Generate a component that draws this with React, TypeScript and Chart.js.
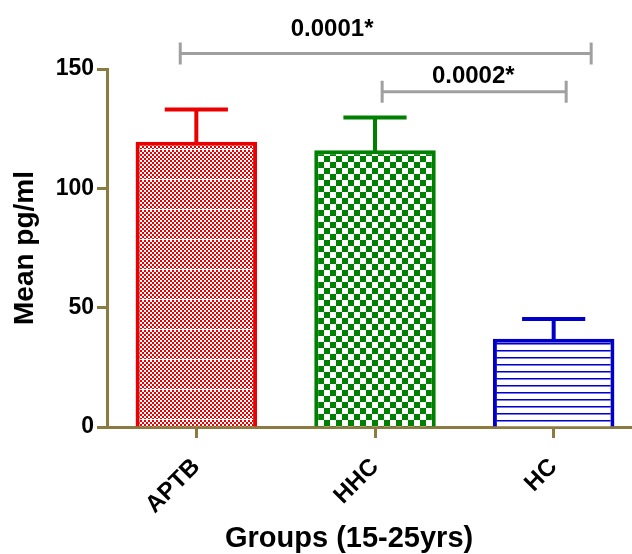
import React, { useEffect, useRef } from 'react';
import { Chart, registerables } from 'chart.js';

Chart.register(...registerables);

// ---- data ----
const categories = ['APTB', 'HHC', 'HC'];
const means = [119.5, 116, 37];
const sem = [13.5, 13.7, 8.3];
const yTicks = [0, 50, 100, 150];
const comparisons = [
  { from: 0, to: 2, level: 156.5, label: '0.0001*' },
  { from: 1, to: 2, level: 140.5, label: '0.0002*' },
];
const xTitle = 'Groups (15-25yrs)';
const yTitle = 'Mean pg/ml';

// ---- styling / layout (not data) ----
const barColors = ['#ea0000', '#008000', '#0000c8'];
const axisColor = '#8c7b41';
const bracketColor = '#a0a0a0';
const FONT = "'Liberation Sans', Arial, sans-serif";
// bracket extents & label anchors (category-index units / value units)
const bracketLayout = [
  { start: -0.09, end: 2.21, textX: 0.76, textY: 163.8 },
  { start: 1.04, end: 2.07, textX: 1.55, textY: 144.3 },
];
const xTitleAnchor = 0.855;

function makePattern(w: number, h: number, draw: (g: CanvasRenderingContext2D) => void) {
  const c = document.createElement('canvas');
  c.width = w;
  c.height = h;
  const g = c.getContext('2d') as CanvasRenderingContext2D;
  draw(g);
  return g.createPattern(c, 'repeat') as CanvasPattern;
}

const annotate = {
  id: 'annotate',
  afterDatasetsDraw(chart: any) {
    const { ctx, scales } = chart;
    const y = scales.y;
    const meta = chart.getDatasetMeta(0);
    ctx.save();
    meta.data.forEach((bar: any, i: number) => {
      const top = y.getPixelForValue(means[i]);
      const errTop = y.getPixelForValue(means[i] + sem[i]);
      const half = bar.width * 0.26;
      ctx.strokeStyle = barColors[i];
      ctx.lineWidth = 4;
      ctx.lineCap = 'butt';
      ctx.beginPath();
      ctx.moveTo(bar.x, top + 2);
      ctx.lineTo(bar.x, errTop);
      ctx.stroke();
      ctx.beginPath();
      ctx.moveTo(bar.x - half, errTop);
      ctx.lineTo(bar.x + half, errTop);
      ctx.stroke();
    });
    ctx.restore();
  },
  afterDraw(chart: any) {
    const { ctx, scales } = chart;
    const x = scales.x;
    const y = scales.y;
    ctx.save();
    comparisons.forEach((c, i) => {
      const L = bracketLayout[i];
      const xs = x.getPixelForValue(c.from + (L.start - c.from));
      const xe = x.getPixelForValue(c.to + (L.end - c.to));
      const yy = y.getPixelForValue(c.level);
      ctx.strokeStyle = bracketColor;
      ctx.lineWidth = 3;
      ctx.beginPath();
      ctx.moveTo(xs, yy);
      ctx.lineTo(xe, yy);
      ctx.moveTo(xs, yy - 11);
      ctx.lineTo(xs, yy + 11);
      ctx.moveTo(xe, yy - 11);
      ctx.lineTo(xe, yy + 11);
      ctx.stroke();
      ctx.fillStyle = '#000';
      ctx.font = `bold 24px ${FONT}`;
      ctx.textAlign = 'center';
      ctx.textBaseline = 'alphabetic';
      ctx.fillText(c.label, x.getPixelForValue(L.textX), y.getPixelForValue(L.textY));
    });
    // x axis title
    ctx.fillStyle = '#000';
    ctx.font = `bold 29px ${FONT}`;
    ctx.textAlign = 'center';
    ctx.textBaseline = 'alphabetic';
    ctx.fillText(xTitle, x.getPixelForValue(xTitleAnchor), 547);
    ctx.restore();
  },
};

export default function App() {
  const ref = useRef<HTMLCanvasElement | null>(null);

  useEffect(() => {
    const canvas = ref.current;
    if (!canvas) return;

    const red = makePattern(4, 30, (g) => {
      g.fillStyle = '#ffffff';
      g.fillRect(0, 0, 4, 30);
      g.fillStyle = barColors[0];
      for (let r = 0; r < 29; r++) {
        const phase = Math.floor(r / 2) % 2;
        g.fillRect(phase * 2, r, 2, 1);
      }
    });
    const green = makePattern(12, 12, (g) => {
      g.fillStyle = '#ffffff';
      g.fillRect(0, 0, 12, 12);
      g.fillStyle = barColors[1];
      g.fillRect(0, 0, 6, 6);
      g.fillRect(6, 6, 6, 6);
    });
    const blue = makePattern(4, 7, (g) => {
      g.fillStyle = '#ffffff';
      g.fillRect(0, 0, 4, 7);
      g.fillStyle = barColors[2];
      g.fillRect(0, 0, 4, 1);
      g.fillStyle = '#7a7ae6';
      g.fillRect(0, 1, 4, 1);
    });

    const chart = new Chart(canvas, {
      type: 'bar',
      data: {
        labels: categories,
        datasets: [
          {
            data: means,
            backgroundColor: [red, green, blue],
            borderColor: barColors,
            borderWidth: 4,
            borderSkipped: 'start',
            barPercentage: 0.68,
            categoryPercentage: 1,
          },
        ],
      },
      options: {
        responsive: false,
        animation: false,
        devicePixelRatio: 1,
        layout: { padding: { top: 69, left: 0, right: 0, bottom: 0 } },
        plugins: { legend: { display: false }, tooltip: { enabled: false } },
        scales: {
          x: {
            type: 'category',
            offset: true,
            grid: {
              display: true,
              drawOnChartArea: false,
              drawTicks: true,
              tickLength: 11,
              tickWidth: 3,
              tickColor: axisColor,
              offset: false,
            },
            border: { display: true, color: axisColor, width: 3 },
            ticks: {
              color: '#000',
              font: { family: FONT, weight: 'bold', size: 24 },
              minRotation: 45,
              maxRotation: 45,
              padding: 15,
              autoSkip: false,
            },
            afterFit: (s: any) => {
              s.height = 127;
            },
          },
          y: {
            min: 0,
            max: 150,
            grid: {
              display: true,
              drawOnChartArea: false,
              drawTicks: true,
              tickLength: 10,
              tickWidth: 3,
              tickColor: axisColor,
            },
            border: { display: true, color: axisColor, width: 3 },
            ticks: {
              color: '#000',
              font: { family: FONT, weight: 'bold', size: 23 },
              padding: 3,
            },
            afterBuildTicks: (s: any) => {
              s.ticks = yTicks.map((v) => ({ value: v }));
            },
            title: {
              display: true,
              text: yTitle,
              color: '#000',
              font: { family: FONT, weight: 'bold', size: 28 },
              padding: { top: 8, bottom: 0 },
            },
            afterFit: (s: any) => {
              s.width = 107;
            },
          },
        },
      },
      plugins: [annotate],
    });

    return () => chart.destroy();
  }, []);

  return (
    <div
      style={{
        position: 'absolute',
        left: 0,
        top: 0,
        width: 632,
        height: 554,
        overflow: 'hidden',
        background: '#fff',
      }}
    >
      <canvas ref={ref} width={643} height={554} style={{ display: 'block' }} />
    </div>
  );
}
